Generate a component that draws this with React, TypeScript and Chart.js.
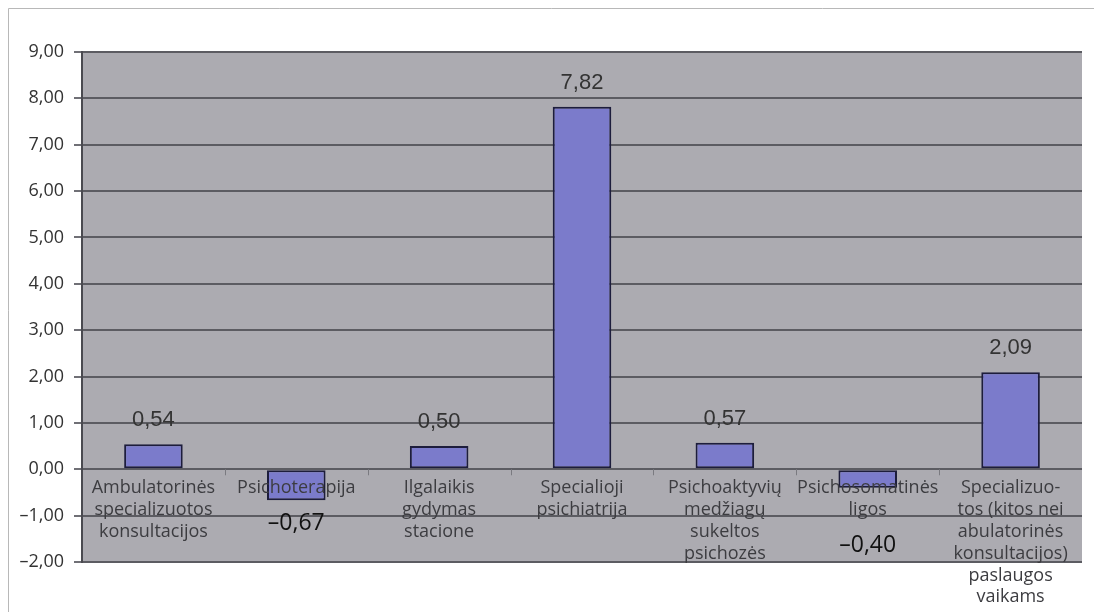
import React, { useEffect, useRef } from "react";
import { Chart, registerables } from "chart.js";

Chart.register(...registerables);

// Category names, split into the lines they are printed on
const categories: string[][] = [
  ["Ambulatorinės", "specializuotos", "konsultacijos"],
  ["Psichoterapija"],
  ["Ilgalaikis", "gydymas", "stacione"],
  ["Specialioji", "psichiatrija"],
  ["Psichoaktyvių", "medžiagų", "sukeltos", "psichozės"],
  ["Psichosomatinės", "ligos"],
  ["Specializuo-", "tos (kitos nei", "abulatorinės", "konsultacijos)", "paslaugos", "vaikams"],
];

const values: number[] = [0.54, -0.67, 0.5, 7.82, 0.57, -0.4, 2.09];

const yMin = -2;
const yMax = 9;
const yStep = 1;

const formatNumber = (v: number) => {
  const s = Math.abs(v).toFixed(2).replace(".", ",");
  return v < 0 ? "\u2013" + s : s;
};

const decorations = {
  id: "decorations",
  beforeDraw(chart: any) {
    const { ctx, chartArea } = chart;
    ctx.save();
    ctx.fillStyle = "#ffffff";
    ctx.fillRect(0, 0, chart.width, chart.height);
    // frame lines along the top and left edges
    ctx.strokeStyle = "#b8b8b8";
    ctx.lineWidth = 1;
    ctx.beginPath();
    ctx.moveTo(8.5, chart.height);
    ctx.lineTo(8.5, 8.5);
    ctx.lineTo(chart.width, 8.5);
    ctx.stroke();
    // plot background
    ctx.fillStyle = "#acabb1";
    ctx.fillRect(chartArea.left, chartArea.top, chartArea.right - chartArea.left, chartArea.bottom - chartArea.top);
    ctx.restore();
  },
  afterDatasetsDraw(chart: any) {
    const { ctx, scales } = chart;
    const x = scales.x;
    const y = scales.y;
    const zeroY = y.getPixelForValue(0);
    ctx.save();

    // small category separators on the zero line
    ctx.strokeStyle = "#7a7a80";
    ctx.lineWidth = 1;
    for (let i = 1; i < categories.length; i++) {
      const bx = Math.round((x.getPixelForValue(i - 1) + x.getPixelForValue(i)) / 2) + 0.5;
      ctx.beginPath();
      ctx.moveTo(bx, zeroY);
      ctx.lineTo(bx, zeroY + 6);
      ctx.stroke();
    }

    // category labels inside the plot, below the zero line
    ctx.fillStyle = "#3c3c40";
    ctx.font = '18px "Open Sans"';
    ctx.textAlign = "center";
    ctx.textBaseline = "middle";
    const lineH = 21.8;
    categories.forEach((lines, i) => {
      const cx = x.getPixelForValue(i);
      lines.forEach((line, j) => {
        ctx.fillText(line, cx, zeroY + 19 + j * lineH);
      });
    });

    // value labels
    const meta = chart.getDatasetMeta(0);
    values.forEach((v, i) => {
      const bar = meta.data[i];
      const cx = bar.x;
      if (v >= 0) {
        ctx.fillStyle = "#333333";
        ctx.font = '22px "Liberation Sans"';
        ctx.fillText(formatNumber(v), cx, y.getPixelForValue(v) - 24);
      } else {
        ctx.fillStyle = "#111111";
        ctx.font = '23px "Open Sans"';
        const n = categories[i].length;
        ctx.fillText(formatNumber(v), cx, zeroY + 19 + (n - 1) * lineH + 35);
      }
    });
    ctx.restore();
  },
};

export default function App() {
  const canvasRef = useRef<HTMLCanvasElement | null>(null);

  useEffect(() => {
    if (!canvasRef.current) return;
    const chart = new Chart(canvasRef.current, {
      type: "bar",
      data: {
        labels: categories.map((c) => c.join(" ")),
        datasets: [
          {
            data: values,
            backgroundColor: "#7b7bcb",
            borderColor: "#1d1d3c",
            borderWidth: 2,
            borderSkipped: false,
            categoryPercentage: 1,
            barPercentage: 0.41,
          },
        ],
      },
      options: {
        responsive: false,
        animation: false,
        layout: { padding: { top: 52, bottom: 50, left: 0, right: 12 } },
        plugins: {
          legend: { display: false },
          tooltip: { enabled: false },
          title: { display: false },
        },
        scales: {
          x: { display: false },
          y: {
            min: yMin,
            max: yMax,
            afterFit: (scale: any) => {
              scale.width = 82;
            },
            ticks: {
              stepSize: yStep,
              padding: 10,
              color: "#333333",
              font: { family: '"Open Sans"', size: 18 },
              callback: (v: any) => formatNumber(Number(v)),
            },
            grid: {
              color: "#5c5c62",
              lineWidth: 2,
              tickLength: 8,
              tickColor: "#707076",
            },
            border: { display: true, color: "#4a4a50", width: 2 },
          },
        },
      },
      plugins: [decorations],
    });
    const fonts = (document as any).fonts;
    if (fonts && fonts.ready) {
      fonts.ready.then(() => chart.update());
    }
    return () => chart.destroy();
  }, []);

  return (
    <div style={{ position: "fixed", left: 0, top: 0, width: 1094, height: 612, background: "#fff" }}>
      <canvas ref={canvasRef} width={1094} height={612} style={{ display: "block" }} />
    </div>
  );
}
